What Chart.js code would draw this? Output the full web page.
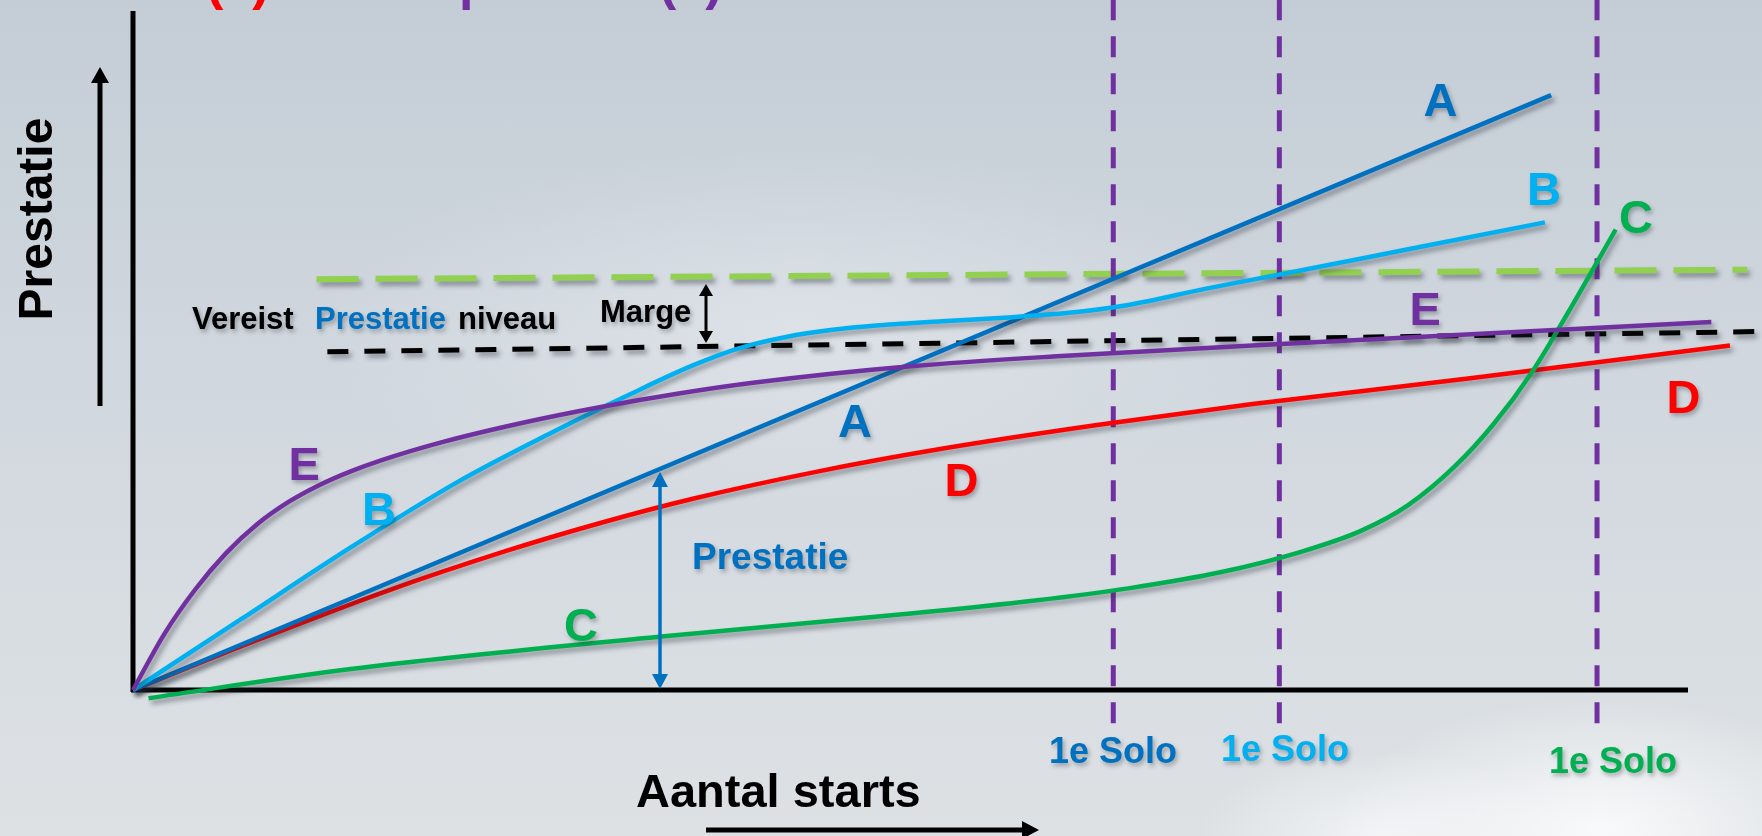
<!DOCTYPE html>
<html>
<head>
<meta charset="utf-8">
<script src="https://cdn.jsdelivr.net/npm/chart.js@4.4.0/dist/chart.umd.min.js"></script>
<style>
  html, body { margin: 0; padding: 0; }
  body {
    width: 1762px; height: 836px; overflow: hidden;
    background:
      radial-gradient(ellipse 380px 190px at 1600px 830px, rgba(250,251,252,0.95), rgba(250,251,252,0) 70%),
      radial-gradient(ellipse 260px 120px at 1380px 836px, rgba(244,246,248,0.85), rgba(244,246,248,0) 70%),
      radial-gradient(ellipse 700px 260px at 800px 330px, rgba(226,231,235,0.7), rgba(226,231,235,0) 70%),
      linear-gradient(180deg, #c4cdd6 0%, #cfd6dd 40%, #d8dde2 75%, #dde1e4 100%);
  }
  canvas { display: block; }
</style>
</head>
<body>
<canvas id="leercurve" width="1762" height="836"></canvas>
<script>
// x: aantal starts (0 = oorsprong, 100 = einde as), y: prestatie (0..100 = top as)
const xA = [0, 91.2];
const yA = [0, 87.6];

const xB = [0, 7, 14, 21, 27, 32, 36, 39, 42, 45, 48, 52, 56, 60, 64, 69, 74, 82, 90.8];
const yB = [0, 10.5, 21, 30.8, 38, 43.6, 47.8, 50.35, 52, 53.05, 53.71, 54.31, 54.83, 55.51, 56.71, 59.11, 61.31, 64.91, 68.87];

const xC = [1, 14, 34, 50, 58, 64, 70, 75, 79, 82, 85, 87.5, 90, 92.5, 95.35];
const yC = [-1.2, 3.09, 7.89, 11.25, 13.17, 14.97, 17.37, 20.27, 23.47, 27.22, 32.92, 39.17, 46.92, 56.42, 67.82];

const xD = [0, 8, 16, 24, 30, 36, 44, 52, 62, 72, 86, 102.7];
const yD = [0, 7.36, 14.32, 20.48, 24.56, 28.16, 32.16, 35.52, 39.02, 42.12, 45.9, 50.74];

const xE = [0, 2, 4, 6, 8, 10, 12, 14, 16, 20, 25, 30, 35, 40, 50, 60, 75, 101.5];
const yE = [0, 8.2, 14.8, 20.2, 24.45, 27.7, 30.2, 32.2, 33.86, 36.58, 39.33, 41.65, 43.63, 45.28, 47.68, 49.23, 51.1, 54.2];

// vereist prestatie niveau (zwart) en niveau + marge (groen)
const xNiveau = [12.5, 104.8];
const yNiveau = [49.8, 52.8];
const xMarge = [11.8, 103.8];
const yMarge = [60.5, 61.9];

// eerste solo van A, B en C
const soloX = [63.04, 73.72, 94.15];
const soloY = [-4.9, 101.7];

const pts = (xs, ys) => xs.map((x, i) => ({ x: x, y: ys[i] }));

const FONT = '"Liberation Sans", Arial, sans-serif';
const BLUE = '#0070C0', LBLUE = '#00B0F0', GREEN = '#00B050', RED = '#FF0000', PURPLE = '#7030A0';

function curve(data, color) {
    return {
        data: data, borderColor: color, borderWidth: 4.5, showLine: true, pointRadius: 0,
        cubicInterpolationMode: 'monotone', clip: false, shadow: true
    };
}

const datasets = [
    curve(pts(xE, yE), PURPLE),
    curve(pts(xC, yC), GREEN),
    curve(pts(xB, yB), LBLUE),
    curve(pts(xA, yA), BLUE),
    curve(pts(xD, yD), RED),
];
soloX.forEach(s => datasets.push({
    data: pts([s, s], soloY), borderColor: PURPLE, borderWidth: 5, borderDash: [21, 16],
    showLine: true, pointRadius: 0, clip: false, shadow: false
}));
datasets.push({
    data: pts(xNiveau, yNiveau), borderColor: '#000000', borderWidth: 5, borderDash: [21, 16],
    showLine: true, pointRadius: 0, clip: false, shadow: true
});
datasets.push({
    data: pts(xMarge, yMarge), borderColor: '#92D050', borderWidth: 6, borderDash: [42, 17],
    showLine: true, pointRadius: 0, clip: false, shadow: true
});

// letters bij de curves (in data-eenheden)
const letterSpots = [
    ['A', 84.08, 87.04, BLUE], ['B', 90.74, 73.93, LBLUE], ['C', 96.66, 69.81, GREEN],
    ['E', 83.09, 56.26, PURPLE], ['D', 99.71, 43.23, RED],
    ['A', 46.43, 39.76, BLUE], ['D', 53.28, 31.08, RED],
    ['E', 11.0, 33.5, PURPLE], ['B', 15.82, 26.8, LBLUE], ['C', 28.81, 9.79, GREEN]
];

function head(ctx, x, y, dir, len, half) {
    ctx.beginPath();
    if (dir === 'up') { ctx.moveTo(x, y); ctx.lineTo(x - half, y + len); ctx.lineTo(x + half, y + len); }
    if (dir === 'down') { ctx.moveTo(x, y); ctx.lineTo(x - half, y - len); ctx.lineTo(x + half, y - len); }
    if (dir === 'right') { ctx.moveTo(x, y); ctx.lineTo(x - len, y - half); ctx.lineTo(x - len, y + half); }
    ctx.closePath();
    ctx.fill();
}

function line(ctx, x1, y1, x2, y2, w, color) {
    ctx.strokeStyle = color; ctx.lineWidth = w;
    ctx.beginPath(); ctx.moveTo(x1, y1); ctx.lineTo(x2, y2); ctx.stroke();
}

function text(ctx, s, x, y, size, color, align) {
    ctx.font = 'bold ' + size + 'px ' + FONT;
    ctx.fillStyle = color;
    ctx.textAlign = align || 'left';
    ctx.textBaseline = 'alphabetic';
    ctx.fillText(s, x, y);
}

function softShadow(ctx) {
    ctx.shadowColor = 'rgba(40,45,55,0.45)';
    ctx.shadowBlur = 5;
    ctx.shadowOffsetX = 3;
    ctx.shadowOffsetY = 4;
}

const shadowPlugin = {
    id: 'shadow',
    beforeDatasetDraw(chart, args) {
        const ctx = chart.ctx;
        ctx.save();
        if (chart.data.datasets[args.index].shadow) softShadow(ctx);
    },
    afterDatasetDraw(chart) {
        chart.ctx.restore();
    }
};

const axesPlugin = {
    id: 'assen',
    beforeDatasetsDraw(chart) {
        const ctx = chart.ctx, a = chart.chartArea;
        ctx.save();
        line(ctx, a.left, a.top, a.left, a.bottom + 2, 5, '#000');
        line(ctx, a.left - 2, a.bottom, a.right, a.bottom, 5, '#000');

        // restanten van de titel bovenaan
        text(ctx, '(1)', 206, -1, 52, RED);
        text(ctx, 'p', 459, -1, 52, PURPLE);
        text(ctx, '(2)', 659, -1, 52, PURPLE);

        // aspijlen en astitels
        ctx.fillStyle = '#000';
        line(ctx, 100, 406, 100, 80, 5, '#000');
        head(ctx, 100, 67, 'up', 16, 9);
        line(ctx, 706, 830, 1025, 830, 5, '#000');
        head(ctx, 1039, 830, 'right', 17, 9);

        ctx.save();
        ctx.translate(52, 219);
        ctx.rotate(-Math.PI / 2);
        text(ctx, 'Prestatie', 0, 0, 48, '#000', 'center');
        ctx.restore();
        text(ctx, 'Aantal starts', 636, 807, 47, '#000');
        ctx.restore();
    },
    afterDatasetsDraw(chart) {
        const ctx = chart.ctx, sx = chart.scales.x, sy = chart.scales.y;
        ctx.save();

        // marge pijl en prestatie pijl
        ctx.fillStyle = '#000';
        line(ctx, 706, 294, 706, 333, 3, '#000');
        head(ctx, 706, 284, 'up', 12, 7);
        head(ctx, 706, 343, 'down', 12, 7);
        ctx.fillStyle = BLUE;
        line(ctx, 660, 484, 660, 677, 3.5, BLUE);
        head(ctx, 660, 472, 'up', 15, 8);
        head(ctx, 660, 689, 'down', 15, 8);

        softShadow(ctx);
        ctx.shadowBlur = 4; ctx.shadowOffsetX = 2; ctx.shadowOffsetY = 3;
        ctx.shadowColor = 'rgba(40,45,55,0.35)';

        text(ctx, 'Vereist', 192, 329, 31, '#000');
        text(ctx, 'Prestatie', 315, 329, 31, BLUE);
        text(ctx, 'niveau', 458, 329, 31, '#000');
        text(ctx, 'Marge', 600, 322, 31, '#000');
        text(ctx, 'Prestatie', 692, 569, 37, BLUE);

        text(ctx, '1e Solo', 1049, 763, 36, BLUE);
        text(ctx, '1e Solo', 1221, 761, 36, LBLUE);
        text(ctx, '1e Solo', 1549, 773, 36, GREEN);

        letterSpots.forEach(l => {
            text(ctx, l[0], sx.getPixelForValue(l[1]), sy.getPixelForValue(l[2]) + 17, 47, l[3], 'center');
        });
        ctx.restore();
    }
};

new Chart(document.getElementById('leercurve'), {
    type: 'scatter',
    data: { datasets: datasets },
    options: {
        responsive: false,
        animation: false,
        layout: { padding: { left: 133, right: 74, top: 11, bottom: 146 } },
        scales: {
            x: { type: 'linear', min: 0, max: 100, display: false },
            y: { type: 'linear', min: 0, max: 100, display: false }
        },
        plugins: { legend: { display: false }, tooltip: { enabled: false } }
    },
    plugins: [shadowPlugin, axesPlugin]
});
</script>
</body>
</html>
